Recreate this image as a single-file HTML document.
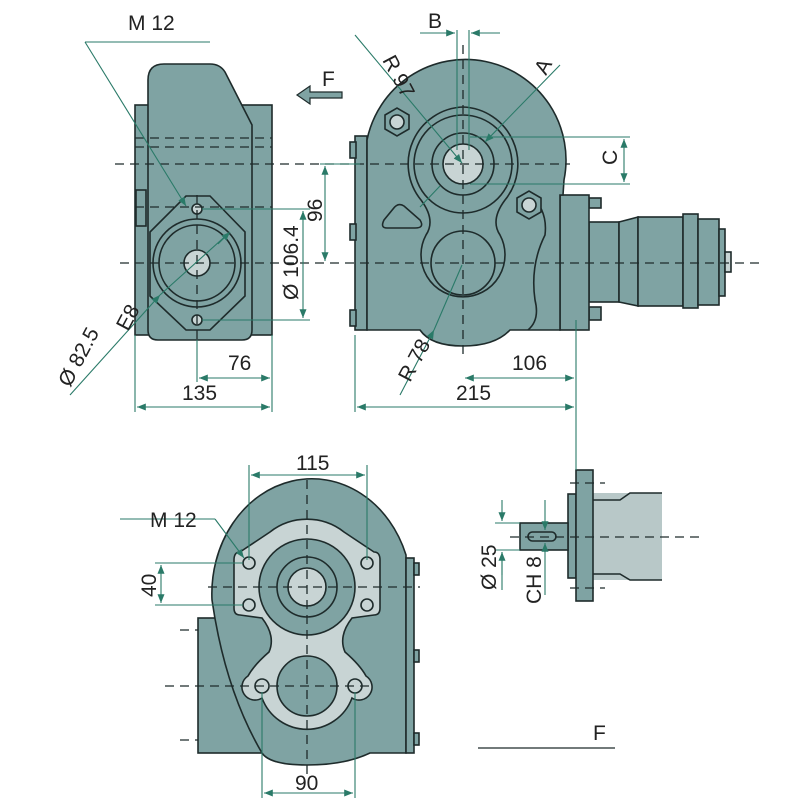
<!DOCTYPE html>
<html><head><meta charset="utf-8"><style>
html,body{margin:0;padding:0;background:#fff}
svg{display:block}
text{font-family:"Liberation Sans",sans-serif;font-size:21px;fill:#222}
</style></head><body>
<svg width="800" height="800" viewBox="0 0 800 800" xmlns="http://www.w3.org/2000/svg">
<defs>
<marker id="ar" viewBox="0 0 10 10" refX="10" refY="5" markerWidth="8" markerHeight="8" orient="auto-start-reverse"><path d="M0,1 L10,5 L0,9 z" fill="#2a7a68"/></marker>
</defs>
<g stroke="#1e2b2b" stroke-width="1.6" fill="#7fa3a3">
<!-- LEFT VIEW -->
<rect x="135" y="105" width="137" height="230"/>
<path d="M148,80 Q148,64 164,64 L210,64 Q220,64 225,72 L252,125 L252,330 Q252,340 242,340 L158,340 Q148,340 148,330 Z"/>
<rect x="136" y="190" width="10" height="36"/>
<path d="M186,196 L210,196 L245,232 L245,296 L210,330 L186,330 L150,296 L150,232 Z"/>
<circle cx="197" cy="263" r="44"/>
<circle cx="197" cy="263" r="38"/>
<circle cx="197" cy="263" r="13" fill="#c8d4d4"/>
<circle cx="197" cy="209" r="5" fill="#c8d4d4"/>
<circle cx="197" cy="320" r="5" fill="#c8d4d4"/>
<!-- TOP RIGHT VIEW -->
<rect x="355" y="136" width="12" height="194"/>
<rect x="350" y="142" width="6" height="16"/><rect x="350" y="224" width="6" height="16"/><rect x="350" y="310" width="6" height="16"/>
<rect x="589" y="198" width="12" height="10"/><rect x="589" y="307" width="12" height="13"/>
<rect x="589" y="222" width="30" height="80"/>
<path d="M619,222 L638,217 L638,306 L619,302 Z"/>
<rect x="638" y="217" width="45" height="89"/>
<rect x="683" y="214" width="15" height="94"/>
<rect x="698" y="219" width="21" height="86"/>
<rect x="719" y="229" width="6" height="67"/>
<rect x="725" y="252" width="6" height="20" fill="#c8d4d4"/>
<rect x="560" y="195" width="29" height="135"/>
<path d="M367,330 L367,140 A99,99 0 0 1 564,180 L563,195 L560,195 L560,330 L510,330 Q495,346 463,346 Q431,346 420,330 Z"/>
<path d="M530,195 Q548,210 545,235 Q530,265 535,300 Q540,320 528,330" fill="none"/>
<path d="M463,107 A57,57 0 0 1 505,200 Q490,220 500,235 A42,42 0 1 1 426,235 Q436,220 421,200 A57,57 0 0 1 463,107 Z"/>
<circle cx="463" cy="164" r="49"/>
<circle cx="463" cy="164" r="31"/>
<circle cx="463" cy="164" r="20" fill="#c8d4d4"/>
<circle cx="463" cy="263" r="32"/>
<path d="M393,209 Q398,202 404,206 L420,220 Q425,228 415,228 L387,228 Q380,228 384,220 Z"/>
<polygon points="385,115 397,108 409,115 409,129 397,136 385,129"/><circle cx="397" cy="122" r="7" fill="#c8d4d4"/>
<polygon points="517,198 529,191 541,198 541,212 529,219 517,212"/><circle cx="529" cy="205" r="7" fill="#c8d4d4"/>
<!-- BOTTOM VIEW -->
<rect x="198" y="618" width="100" height="135"/>
<path d="M212,600 A100,115 0 0 1 406,555 L406,753 L370,753 Q345,765 307,765 Q270,765 262,753 Q225,690 212,600 Z"/>
<rect x="406" y="558" width="8" height="195"/>
<rect x="414" y="563" width="5" height="12"/><rect x="414" y="650" width="5" height="12"/><rect x="414" y="733" width="5" height="12"/>
<path d="M270,532 A60,60 0 0 1 344,532 L374,552 Q380,552 380,560 L380,608 Q380,615 374,615 L352,618 Q338,636 345,652 Q360,665 366,676 A12,12 0 0 1 352,698 A48,48 0 0 1 262,698 A12,12 0 0 1 248,676 Q254,665 269,652 Q276,636 262,618 L240,615 Q234,615 234,608 L234,560 Q234,552 240,552 Z" fill="#c8d4d4"/>
<circle cx="307" cy="587" r="48"/>
<circle cx="307" cy="587" r="30"/>
<circle cx="307" cy="587" r="19" fill="#c8d4d4"/>
<circle cx="307" cy="686" r="30"/>
<circle cx="249" cy="563" r="6" fill="#c8d4d4"/><circle cx="367" cy="563" r="6" fill="#c8d4d4"/>
<circle cx="249" cy="605" r="6" fill="#c8d4d4"/><circle cx="367" cy="605" r="6" fill="#c8d4d4"/>
<circle cx="262" cy="686" r="7" fill="#c8d4d4"/><circle cx="355" cy="686" r="7" fill="#c8d4d4"/>
<!-- SHAFT DETAIL -->
<rect x="593" y="493" width="69" height="87" fill="#b8c8c8" stroke="none"/>
<path d="M593,500 L620,500 L630,493 L662,493 M662,580 L630,580 L620,574 L593,574" fill="none"/>
<rect x="568" y="494" width="8" height="84"/>
<rect x="576" y="470" width="17" height="131"/>
<rect x="520" y="523" width="48" height="27"/>
<rect x="528" y="532" width="28" height="9" rx="4.5"/>
</g>
<!-- centerlines -->
<g stroke="#1e2b2b" stroke-width="1.3" stroke-dasharray="9,6" fill="none">
<line x1="115" y1="164" x2="570" y2="164"/><line x1="120" y1="263" x2="760" y2="263"/>
<line x1="135" y1="138" x2="272" y2="138"/><line x1="135" y1="147" x2="272" y2="147"/><line x1="135" y1="207" x2="272" y2="207"/>
<line x1="463" y1="45" x2="463" y2="360"/><line x1="197" y1="195" x2="197" y2="340"/>
<line x1="307" y1="480" x2="307" y2="780"/><line x1="208" y1="587" x2="420" y2="587"/><line x1="165" y1="686" x2="370" y2="686"/>
<line x1="510" y1="537" x2="700" y2="537"/><line x1="570" y1="483" x2="605" y2="483"/><line x1="570" y1="588" x2="605" y2="588"/>
<line x1="180" y1="630" x2="198" y2="630"/><line x1="180" y1="740" x2="198" y2="740"/>
</g>
<!-- dimension lines -->
<g stroke="#2a7a68" stroke-width="1.1" fill="none">
<line x1="135" y1="335" x2="135" y2="412"/><line x1="272" y1="335" x2="272" y2="412"/><line x1="197" y1="340" x2="197" y2="382"/>
<line x1="137" y1="407" x2="270" y2="407" marker-start="url(#ar)" marker-end="url(#ar)"/>
<line x1="199" y1="378" x2="270" y2="378" marker-start="url(#ar)" marker-end="url(#ar)"/>
<line x1="355" y1="335" x2="355" y2="412"/><line x1="576" y1="320" x2="576" y2="470"/>
<line x1="357" y1="407" x2="574" y2="407" marker-start="url(#ar)" marker-end="url(#ar)"/>
<line x1="465" y1="378" x2="574" y2="378" marker-start="url(#ar)" marker-end="url(#ar)"/>
<line x1="202" y1="209" x2="310" y2="209"/><line x1="202" y1="320" x2="310" y2="320"/>
<line x1="303" y1="211" x2="303" y2="318" marker-start="url(#ar)" marker-end="url(#ar)"/>
<line x1="320" y1="164" x2="360" y2="164"/>
<line x1="325" y1="166" x2="325" y2="261" marker-start="url(#ar)" marker-end="url(#ar)"/>
<line x1="470" y1="137" x2="630" y2="137"/><line x1="470" y1="184" x2="630" y2="184"/>
<line x1="624" y1="139" x2="624" y2="182" marker-start="url(#ar)" marker-end="url(#ar)"/>
<line x1="457" y1="30" x2="457" y2="150"/><line x1="469" y1="30" x2="469" y2="150"/>
<line x1="420" y1="33" x2="455" y2="33" marker-end="url(#ar)"/><line x1="500" y1="33" x2="471" y2="33" marker-end="url(#ar)"/>
<line x1="355" y1="35" x2="462" y2="163" marker-end="url(#ar)"/>
<line x1="560" y1="65" x2="485" y2="142" marker-end="url(#ar)"/><line x1="440" y1="186" x2="420" y2="207" />
<line x1="400" y1="395" x2="434" y2="330" marker-end="url(#ar)"/><line x1="434" y1="330" x2="462" y2="265"/>
<line x1="85" y1="42" x2="210" y2="42"/><line x1="85" y1="42" x2="186" y2="206" marker-end="url(#ar)"/>
<line x1="70" y1="395" x2="160" y2="295" marker-end="url(#ar)"/><line x1="160" y1="295" x2="230" y2="232" /><line x1="218" y1="244" x2="230" y2="232" marker-end="url(#ar)"/>
<line x1="249" y1="465" x2="249" y2="560"/><line x1="367" y1="465" x2="367" y2="560"/>
<line x1="251" y1="475" x2="365" y2="475" marker-start="url(#ar)" marker-end="url(#ar)"/>
<line x1="262" y1="692" x2="262" y2="798"/><line x1="355" y1="692" x2="355" y2="798"/>
<line x1="264" y1="793" x2="353" y2="793" marker-start="url(#ar)" marker-end="url(#ar)"/>
<line x1="155" y1="563" x2="243" y2="563"/><line x1="155" y1="605" x2="243" y2="605"/>
<line x1="161" y1="565" x2="161" y2="603" marker-start="url(#ar)" marker-end="url(#ar)"/>
<line x1="120" y1="519" x2="215" y2="519"/><line x1="215" y1="519" x2="244" y2="558" marker-end="url(#ar)"/>
<line x1="495" y1="523" x2="520" y2="523"/><line x1="495" y1="550" x2="520" y2="550"/>
<line x1="502" y1="500" x2="502" y2="521" marker-end="url(#ar)"/><line x1="502" y1="575" x2="502" y2="552" marker-end="url(#ar)"/><line x1="502" y1="552" x2="502" y2="590"/>
<line x1="545" y1="500" x2="545" y2="530" marker-end="url(#ar)"/><line x1="545" y1="595" x2="545" y2="543" marker-end="url(#ar)"/>
</g>
<line x1="478" y1="748" x2="615" y2="748" stroke="#1e2b2b" stroke-width="1.2"/>
<path d="M342,92 L310,92 L310,86 L297,95 L310,104 L310,98 L342,98 Z" fill="#7fa3a3" stroke="#1e2b2b" stroke-width="1.2"/>
<text x="128" y="30">M 12</text>
<text x="322" y="86">F</text>
<text x="428" y="28">B</text>
<text x="593" y="740">F</text>
<text x="228" y="370">76</text>
<text x="182" y="400">135</text>
<text x="512" y="370">106</text>
<text x="456" y="400">215</text>
<text x="296" y="470">115</text>
<text x="295" y="790">90</text>
<text x="150" y="527">M 12</text>
<text transform="translate(382,60) rotate(62)">R 97</text>
<text transform="translate(546,76) rotate(-62)">A</text>
<text transform="translate(617,165) rotate(-90)">C</text>
<text transform="translate(322,222) rotate(-90)">96</text>
<text transform="translate(298,300) rotate(-90)">Ø 106.4</text>
<text transform="translate(410,383) rotate(-62)">R 78</text>
<text transform="translate(70,388) rotate(-62)">Ø 82.5</text>
<text transform="translate(128,332) rotate(-62)">E8</text>
<text transform="translate(156,597) rotate(-90)">40</text>
<text transform="translate(496,590) rotate(-90)">Ø 25</text>
<text transform="translate(541,604) rotate(-90)">CH 8</text>
</svg>
</body></html>
